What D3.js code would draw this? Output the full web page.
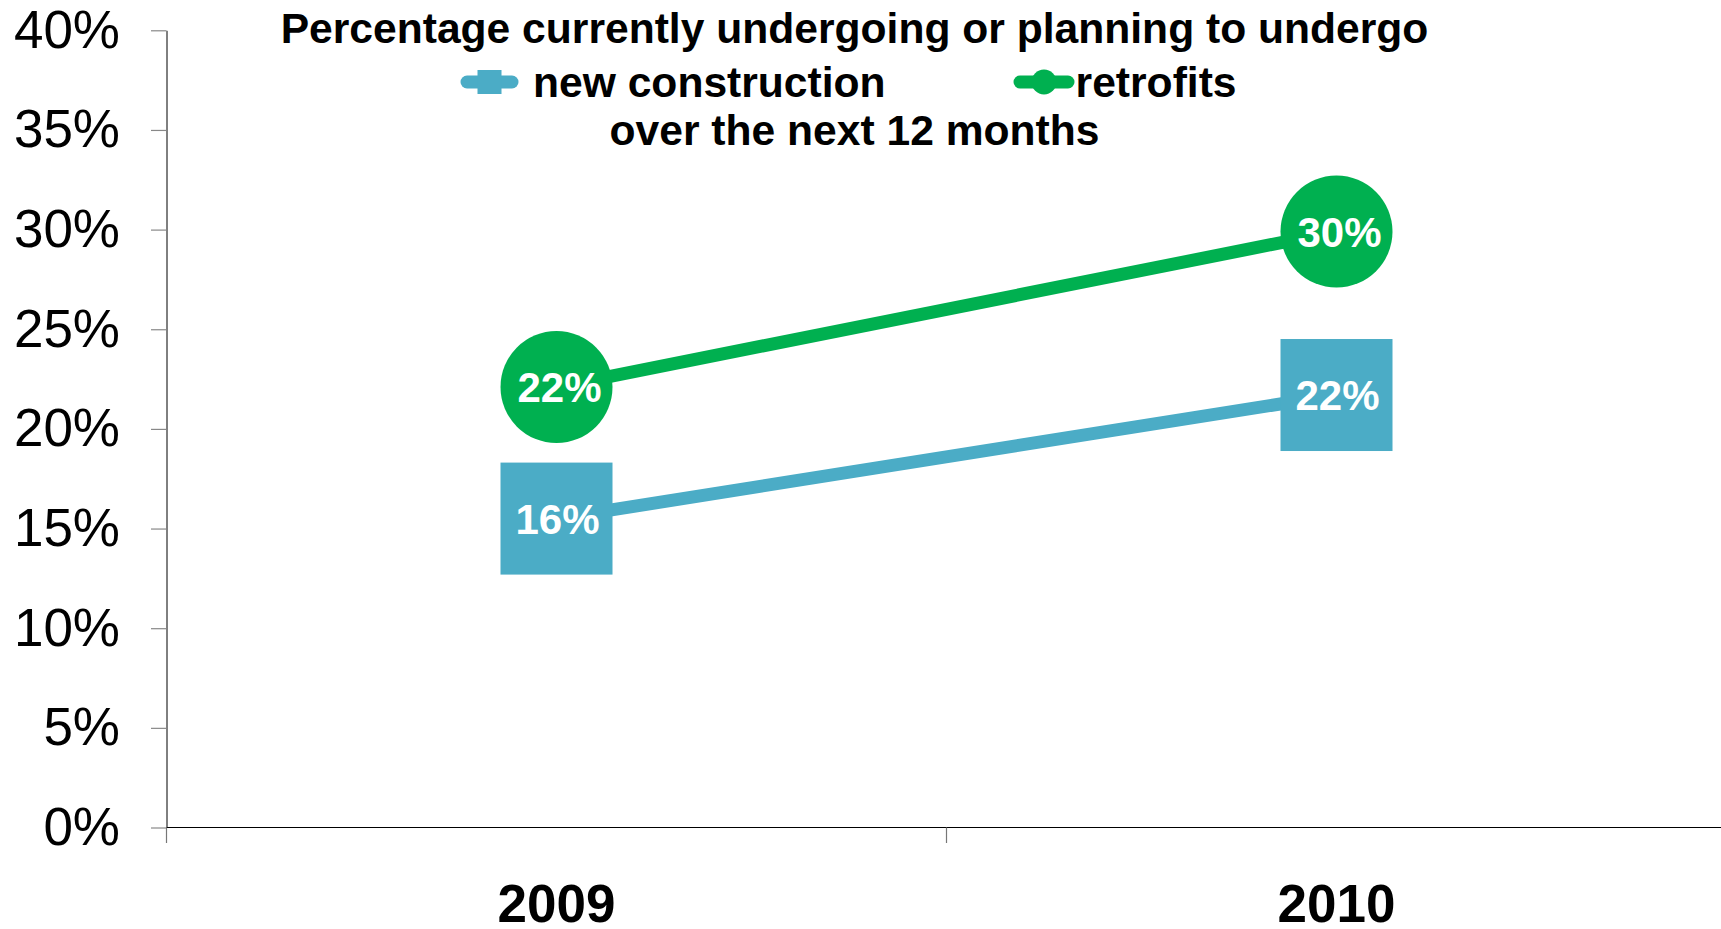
<!DOCTYPE html>
<html>
<head>
<meta charset="utf-8">
<script src="https://cdn.jsdelivr.net/npm/d3@7"></script>
<style>
  html, body { margin: 0; padding: 0; background: #fff; }
  svg { display: block; font-family: "Liberation Sans", Arial, Helvetica, sans-serif; }
</style>
</head>
<body>
<svg id="chart" width="1721" height="929"></svg>
<script>
// ---- data ----
const categories = ["2009", "2010"];
const seriesNames = ["new construction", "retrofits"];
const newConstruction = [15.5, 21.7];
const retrofits = [22.1, 29.9];
const yTicks = [0, 5, 10, 15, 20, 25, 30, 35, 40];
const titleLines = ["Percentage currently undergoing or planning to undergo", "over the next 12 months"];

(function () {
// ---- styles ----
const BLUE = "#4BACC6";
const GREEN = "#00B050";

const svg = d3.select("#chart");
const W = 1721;
const plotLeft = 166.5, plotTop = 30.3, plotBottom = 827.5;
const bandW = 780;

const x = d3.scaleBand().domain(categories).range([plotLeft, plotLeft + bandW * categories.length]).padding(0);
const y = d3.scaleLinear().domain([0, 40]).range([plotBottom, plotTop]);

// ---- y axis ----
const yAxis = d3.axisLeft(y)
  .tickValues(yTicks)
  .tickSize(15.5)
  .tickSizeOuter(0)
  .tickPadding(31)
  .tickFormat(d => d + "%");
const gy = svg.append("g").attr("transform", `translate(${plotLeft},0)`).call(yAxis);
gy.select(".domain").attr("stroke", "#000").attr("stroke-width", 1);
gy.selectAll(".tick line").attr("stroke", "#888").attr("stroke-width", 1.2);
gy.selectAll(".tick text")
  .attr("font-family", "'Liberation Sans', Arial, sans-serif")
  .attr("font-size", 53).attr("fill", "#000");

// ---- x axis ----
svg.append("line")
  .attr("x1", plotLeft).attr("x2", W).attr("y1", plotBottom).attr("y2", plotBottom)
  .attr("stroke", "#000").attr("stroke-width", 1.2);
const boundaries = categories.map(c => x(c));
svg.selectAll(".xtick").data(boundaries).enter().append("line")
  .attr("x1", d => d).attr("x2", d => d)
  .attr("y1", plotBottom).attr("y2", plotBottom + 15.5)
  .attr("stroke", "#777").attr("stroke-width", 1.2);
svg.selectAll(".xlabel").data(categories).enter().append("text")
  .attr("x", d => x(d) + x.bandwidth() / 2)
  .attr("y", 922)
  .attr("text-anchor", "middle")
  .attr("font-size", 53).attr("font-weight", "bold").attr("fill", "#000")
  .text(d => d);

const cx = c => x(c) + x.bandwidth() / 2;

// ---- lines ----
const line = d3.line().x((d, i) => cx(categories[i])).y(d => y(d));
svg.append("path").datum(newConstruction)
  .attr("d", line).attr("fill", "none").attr("stroke", BLUE).attr("stroke-width", 13);
svg.append("path").datum(retrofits)
  .attr("d", line).attr("fill", "none").attr("stroke", GREEN).attr("stroke-width", 13);

// ---- markers ----
const sq = 112, r = 56;
svg.selectAll(".sq").data(newConstruction).enter().append("rect")
  .attr("x", (d, i) => cx(categories[i]) - sq / 2)
  .attr("y", d => y(d) - sq / 2)
  .attr("width", sq).attr("height", sq).attr("fill", BLUE);
svg.selectAll(".ci").data(retrofits).enter().append("circle")
  .attr("cx", (d, i) => cx(categories[i]))
  .attr("cy", d => y(d))
  .attr("r", r).attr("fill", GREEN);

// ---- data labels ----
function labels(data, dx) {
  svg.selectAll(null).data(data).enter().append("text")
    .attr("x", (d, i) => cx(categories[i]) + dx)
    .attr("y", d => y(d) + 15)
    .attr("text-anchor", "middle")
    .attr("font-size", 42).attr("font-weight", "bold").attr("fill", "#fff")
    .text(d => Math.round(d) + "%");
}
labels(newConstruction, 1);
labels(retrofits, 3);

// ---- title / legend ----
svg.append("text").attr("x", 854.5).attr("y", 43).attr("text-anchor", "middle")
  .attr("font-size", 42.6).attr("font-weight", "bold").attr("fill", "#000").text(titleLines[0]);
svg.append("text").attr("x", 854.5).attr("y", 145).attr("text-anchor", "middle")
  .attr("font-size", 42.6).attr("font-weight", "bold").attr("fill", "#000").text(titleLines[1]);

const legY = 82;
svg.append("line").attr("x1", 467).attr("x2", 512).attr("y1", legY).attr("y2", legY)
  .attr("stroke", BLUE).attr("stroke-width", 13).attr("stroke-linecap", "round");
svg.append("rect").attr("x", 489.5 - 12).attr("y", legY - 12).attr("width", 24).attr("height", 24).attr("fill", BLUE);
svg.append("text").attr("x", 533).attr("y", 97)
  .attr("font-size", 42.6).attr("font-weight", "bold").attr("fill", "#000").text(seriesNames[0]);
svg.append("line").attr("x1", 1020).attr("x2", 1068).attr("y1", legY).attr("y2", legY)
  .attr("stroke", GREEN).attr("stroke-width", 13).attr("stroke-linecap", "round");
svg.append("circle").attr("cx", 1044).attr("cy", legY).attr("r", 12.5).attr("fill", GREEN);
svg.append("text").attr("x", 1075.6).attr("y", 97)
  .attr("font-size", 42.6).attr("font-weight", "bold").attr("fill", "#000").text(seriesNames[1]);
})();
</script>
</body>
</html>
